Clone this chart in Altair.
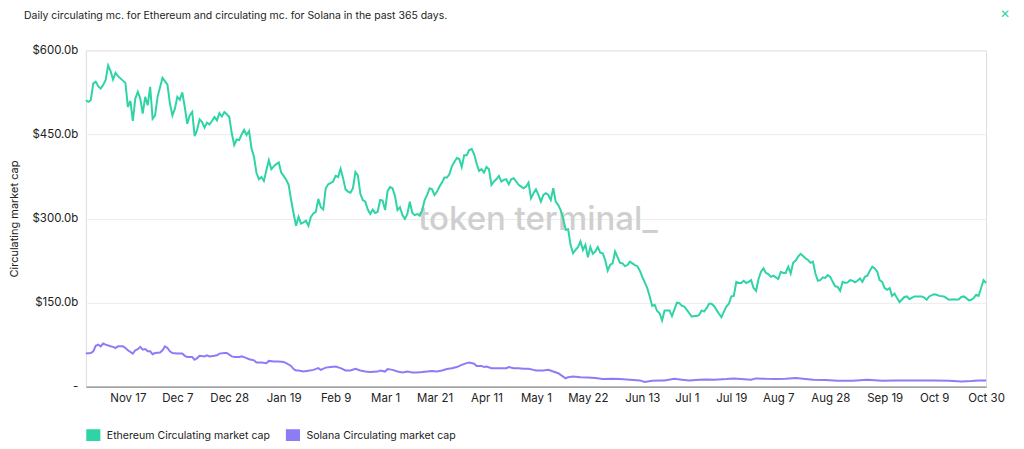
import altair as alt
import pandas as pd

START = "2021-10-31"

eth_days = [0,1,2,3,4,5,6,7,8,9,10,11,12,13,14,16,17,18,19,20,21,22,23,24,25,26,27,28,29,31,33,34,35,36,37,38,39,40,41,42,43,44,45,46,47,48,49,50,51,52,53,54,55,56,57,58,59,60,61,62,63,64,65,66,67,68,69,70,71,72,73,74,75,76,77,78,79,80,81,82,83,84,85,86,87,88,89,90,91,92,93,94,95,96,97,98,100,101,102,103,104,105,106,107,108,109,110,111,112,113,114,115,116,117,118,119,120,121,122,123,124,125,126,127,128,129,130,131,132,133,134,135,136,137,138,139,140,141,142,143,144,145,146,147,148,149,150,151,152,153,154,155,156,157,158,159,160,161,162,163,164,165,166,167,168,169,170,171,172,173,174,175,176,177,178,179,180,181,182,183,184,185,186,187,188,189,190,191,192,193,194,195,196,197,198,199,200,201,202,203,204,205,206,207,208,209,210,211,212,213,214,215,216,217,218,219,220,221,222,223,224,225,226,227,228,229,230,231,232,233,234,235,236,237,238,239,240,241,242,243,244,245,246,247,248,249,250,251,252,253,254,255,256,257,258,259,260,261,262,263,264,265,266,267,268,269,270,271,272,273,274,275,276,277,278,279,280,281,282,283,284,285,286,287,288,289,290,291,292,293,294,295,296,297,298,299,300,301,302,303,304,305,306,307,308,309,310,311,312,313,314,315,316,317,318,319,320,321,322,323,324,325,326,327,328,329,331,332,333,335,337,338,339,340,341,343,344,345,347,348,349,351,352,353,354,355,356,357,358,359,360,361,362,363,364]
eth_vals = [511,508,511,541,544,536,532,538,547,573,563,548,560,554,550,542,499,510,474,514,526,514,487,517,502,535,478,484,517,551,539,505,484,496,517,512,525,499,469,484,490,447,458,477,472,462,471,468,474,481,475,488,482,490,486,481,452,431,441,440,450,458,449,456,425,410,381,370,374,367,386,404,388,393,397,400,382,376,369,360,333,309,287,303,291,293,296,287,303,309,312,335,320,316,354,361,366,376,374,389,372,352,348,346,354,383,377,344,333,330,316,308,316,310,312,333,332,315,349,356,354,340,315,320,306,299,308,330,310,306,308,305,315,333,342,354,352,342,348,357,364,373,373,379,393,401,408,406,392,413,413,422,424,415,398,385,388,382,392,388,360,366,370,376,366,369,370,361,370,372,366,360,357,354,357,364,336,345,352,342,330,342,345,342,333,354,330,324,315,300,280,281,253,238,244,249,259,244,253,231,249,237,241,249,239,238,226,207,217,220,241,231,221,220,215,217,223,220,217,215,207,196,186,176,161,144,146,135,131,118,136,136,136,126,138,150,149,144,143,137,131,125,126,126,128,136,134,140,148,148,144,137,130,124,134,143,148,161,162,187,185,185,189,185,187,190,176,171,192,205,211,203,201,196,198,195,192,205,203,203,214,202,221,225,232,237,233,229,226,221,223,202,189,190,195,194,199,196,187,179,178,171,187,185,186,190,189,186,189,193,187,196,198,207,214,211,205,190,187,176,173,176,162,166,158,151,160,161,156,161,161,161,159,155,161,165,164,162,161,158,155,156,155,156,160,161,158,154,155,158,164,162,176,190,185,187,193]

sol_days = [0,2,3,4,5,6,7,8,10,11,12,13,15,16,17,19,20,21,22,23,24,25,26,27,28,30,31,32,33,34,35,37,39,40,41,43,44,45,46,48,49,50,52,53,54,56,57,59,60,62,63,65,66,68,69,71,73,74,76,78,80,81,83,84,85,86,88,90,92,94,95,97,99,101,103,105,107,109,111,113,115,118,119,121,122,124,126,128,130,132,134,136,138,140,142,144,146,148,150,152,154,155,157,158,160,161,162,164,166,168,170,171,173,175,177,179,181,182,185,187,189,191,192,194,195,197,200,203,206,209,213,216,220,224,226,229,232,234,238,241,244,248,251,254,259,262,265,269,271,275,279,283,287,291,294,299,304,310,316,322,327,333,338,343,349,354,358,361,364]
sol_vals = [59,60,63,73,75,72,77,75,72,71,69,72,72,69,65,59,65,67,71,66,67,63,63,58,60,61,65,72,69,63,60,59,59,55,53,53,48,51,55,54,56,54,55,56,59,60,60,54,53,53,54,51,49,47,43,43,42,46,45,45,44,42,37,31.5,29,29,27,28.5,30,33,30,34,35,36,33,29,29,32,29,27,26,27,29,27,31.5,30,27,25.5,27,25.5,25.5,26,27,28,27,29,31.5,33,35,39,42,43,41,37,37,35,36,33,33,33,33,35,33,33,32,32,30,29,29,30,27,24,21,15,17,18,17,16.5,15.5,13.7,14,13.7,12.5,11.2,8.3,10.7,11.2,11.2,14,12.5,11.2,12.5,13,12.5,13.7,14.8,13.7,12.5,14.8,14,13.7,14,15.5,13.7,12.5,11.9,10.7,10.7,12.5,10.7,11.2,11.2,11.2,11.2,10.7,9.4,10,11.2,11.2]

series_names = ["Ethereum Circulating market cap", "Solana Circulating market cap"]
series_colors = ["#2fd4a6", "#8c7df6"]
y_ticks = [0, 150, 300, 450, 600]
x_tick_days = [17, 37, 58, 80, 101, 121, 141, 162, 182, 203, 225, 243, 261, 280, 301, 323, 343, 364]
title_text = "Daily circulating mc. for Ethereum and circulating mc. for Solana in the past 365 days."

start = pd.Timestamp(START)
rows = []
for d, v in zip(eth_days, eth_vals):
    rows.append({"date": (start + pd.Timedelta(days=d)).strftime("%Y-%m-%d"), "value": v, "series": series_names[0]})
for d, v in zip(sol_days, sol_vals):
    rows.append({"date": (start + pd.Timedelta(days=d)).strftime("%Y-%m-%d"), "value": v, "series": series_names[1]})
df = pd.DataFrame(rows)

def ms(d):
    return int((start + pd.Timedelta(days=d)).tz_localize("UTC").timestamp() * 1000)

FONT = "Inter"
TEXT = "#222222"

x_enc = alt.X(
    "date:T",
    scale=alt.Scale(type="utc", domain=[ms(0), ms(364)], nice=False),
    axis=alt.Axis(
        values=[ms(d) for d in x_tick_days],
        labelExpr="utcFormat(datum.value, '%b %-d')",
        title=None, grid=False, ticks=False, domainColor="#8a8a8a", domainWidth=1.2,
        labelColor=TEXT, labelFontSize=11.5, labelPadding=6, labelFont=FONT,
        labelOverlap=False, labelFlush=False,
    ),
)
y_enc = alt.Y(
    "value:Q",
    scale=alt.Scale(domain=[0, 600], nice=False),
    axis=alt.Axis(
        values=y_ticks,
        labelExpr="datum.value == 0 ? '-' : '$' + format(datum.value, '.1f') + 'b'",
        title="Circulating market cap", titleFontSize=11, titleFont=FONT,
        titleFontWeight="normal", titleColor=TEXT, titlePadding=12,
        domain=False, ticks=False, gridColor="#ececec", gridWidth=1,
        labelColor=TEXT, labelFontSize=11.5, labelFont=FONT, labelPadding=8,
    ),
)

lines = alt.Chart(df).mark_line(strokeWidth=2).encode(
    x=x_enc,
    y=y_enc,
    color=alt.Color(
        "series:N",
        scale=alt.Scale(domain=series_names, range=series_colors),
        legend=None,
    ),
)

legend_layer = alt.Chart(df).mark_square(filled=True, opacity=1).encode(
    x="date:T",
    y="value:Q",
    fill=alt.Fill(
        "series:N",
        scale=alt.Scale(domain=series_names, range=series_colors),
        legend=alt.Legend(
            title=None, orient="none", legendX=0, legendY=379, direction="horizontal",
            symbolType="square", symbolSize=200, symbolStrokeWidth=0,
            labelFontSize=10.6, labelFont=FONT, labelColor=TEXT, labelLimit=400,
            labelOffset=6, columnPadding=15,
        ),
    ),
).transform_filter("false")

watermark = alt.Chart(pd.DataFrame({"t": ["token terminal_"]})).mark_text(
    font=FONT, fontSize=33, fontWeight=500, color="#cfcfcf", align="center", baseline="middle",
).encode(text="t:N", x=alt.value(453), y=alt.value(170))

title_mark = alt.Chart(pd.DataFrame({"t": [title_text]})).mark_text(
    font=FONT, fontSize=10.5, color=TEXT, align="left", baseline="middle",
).encode(text="t:N", x=alt.value(-62), y=alt.value(-34))

close_icon = alt.Chart(pd.DataFrame({"t": ["✕"]})).mark_text(
    font="DejaVu Sans", fontSize=12, color="#2fd4a6", align="center", baseline="middle",
).encode(text="t:N", x=alt.value(921), y=alt.value(-36))

chart = alt.layer(watermark, lines, legend_layer, title_mark, close_icon).properties(
    width=902, height=337,
    autosize=alt.AutoSizeParams(type="none"),
    padding={"left": 78, "top": 42, "right": 30, "bottom": 54},
).resolve_scale(fill="independent", color="independent").configure_view(stroke=None).configure(background="white")

chart.save("out.html", embed_options={"renderer": "svg", "actions": False})
